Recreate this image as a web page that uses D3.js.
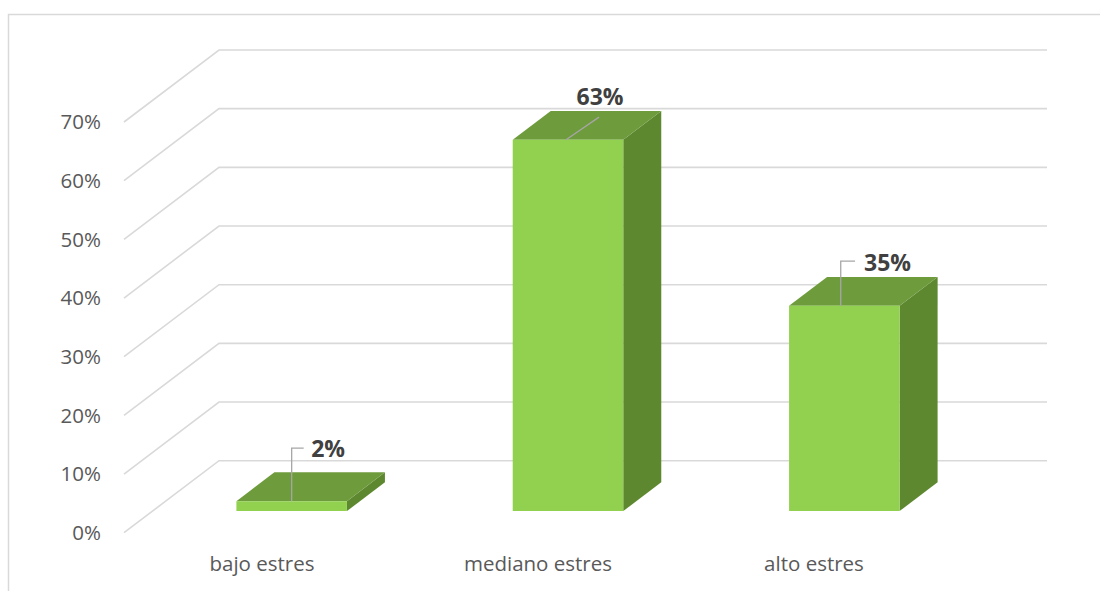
<!DOCTYPE html>
<html><head><meta charset="utf-8">
<script src="https://cdn.jsdelivr.net/npm/d3@7"></script>
<style>html,body{margin:0;padding:0;background:#fff;}svg{display:block;}</style>
</head><body>
<svg id="chart" width="1100" height="591"></svg>
<script>
// ---- data ----
const categories = ["bajo estres", "mediano estres", "alto estres"];
const values = [0.017, 0.633, 0.35];
const yTicks = [0, 0.1, 0.2, 0.3, 0.4, 0.5, 0.6, 0.7];

// ---- layout ----
const W = 1100, H = 591;
const depthDX = 95, depthDY = 72;       // oblique depth of the floor
const barZ0 = 0.3, barZ1 = 0.7;         // bar depth span (fraction of floor depth)
const colors = {front: "#92d050", top: "#6e9b3b", side: "#5e8830", grid: "#d9d9d9"};
// leader/label layout relative to each bar's top-front centre
const labelLayout = [
  {leader: [[0,0],[0,-53],[12,-53]], lx: 19.5, ly: -44, anchor: "start"},
  {leader: [[-2,0],[31,-22.6]], lx: 32, ly: -35, anchor: "middle"},
  {leader: [[-3.6,0],[-3.6,-44.7],[10.7,-44.7]], lx: 19.7, ly: -35, anchor: "start"}
];

const svg = d3.select("#chart");
svg.append("rect").attr("x", 8.5).attr("y", 14.5).attr("width", W).attr("height", H)
  .attr("fill", "none").attr("stroke", colors.grid).attr("stroke-width", 1.5);

const y = d3.scaleLinear().domain([0, 0.7]).range([532.7, 122]);
const x = d3.scaleBand().domain(categories).range([125, 954]).paddingInner(0.6).paddingOuter(0.3);
const xFull = d3.scaleBand().domain(categories).range([124, 952]);
const P = (px, v, z) => [px + z * depthDX, y(v) - z * depthDY];

// gridlines: side-wall diagonal + back-wall horizontal
const g = svg.append("g");
yTicks.forEach(t => {
  const a = P(124, t, 0), b = P(124, t, 1), c = P(952, t, 1);
  g.append("polyline").attr("points", [a, b, c].map(p => p.join(",")).join(" "))
    .attr("fill", "none").attr("stroke", colors.grid).attr("stroke-width", 1.6);
});

// y axis labels
const yFmt = d3.format(".0%");
svg.append("g").selectAll("text").data(yTicks).join("text")
  .attr("x", 101).attr("y", d => y(d)).attr("dy", "0.35em")
  .attr("text-anchor", "end").attr("font-family", "'Open Sans'").attr("font-size", 20.5)
  .attr("fill", "#595959").text(d => yFmt(d));

// category labels
svg.append("g").selectAll("text").data(categories).join("text")
  .attr("x", d => xFull(d) + xFull.bandwidth() / 2).attr("y", 571)
  .attr("text-anchor", "middle").attr("font-family", "'Open Sans'").attr("font-size", 20.5)
  .attr("fill", "#595959").text(d => d);

// bars
const poly = pts => pts.map(p => p.join(",")).join(" ");
const bars = svg.append("g");
categories.forEach((c, i) => {
  const v = values[i];
  const x0 = x(c), x1 = x(c) + x.bandwidth();
  const fbl = P(x0, 0, barZ0), fbr = P(x1, 0, barZ0), ftl = P(x0, v, barZ0), ftr = P(x1, v, barZ0);
  const btl = P(x0, v, barZ1), btr = P(x1, v, barZ1), bbr = P(x1, 0, barZ1);
  bars.append("polygon").attr("points", poly([fbr, ftr, btr, bbr])).attr("fill", colors.side);
  bars.append("polygon").attr("points", poly([ftl, ftr, btr, btl])).attr("fill", colors.top);
  bars.append("polygon").attr("points", poly([fbl, fbr, ftr, ftl])).attr("fill", colors.front);
});

// data labels with leader lines
const lab = svg.append("g");
categories.forEach((c, i) => {
  const v = values[i];
  const ax = x(c) + x.bandwidth() / 2 + barZ0 * depthDX;
  const ay = y(v) - barZ0 * depthDY;
  const L = labelLayout[i];
  lab.append("polyline").attr("points", poly(L.leader.map(p => [ax + p[0], ay + p[1]])))
    .attr("fill", "none").attr("stroke", "#a6a6a6").attr("stroke-width", 1.3);
  lab.append("text").attr("x", ax + L.lx).attr("y", ay + L.ly)
    .attr("text-anchor", L.anchor).attr("font-family", "'Open Sans'").attr("font-weight", "bold")
    .attr("font-size", 23).attr("fill", "#404040").text(yFmt(v));
});
</script>
</body></html>
